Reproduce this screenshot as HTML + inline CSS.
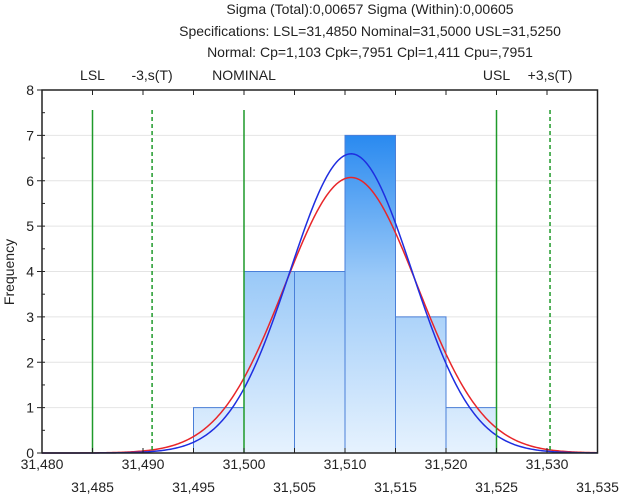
<!DOCTYPE html>
<html><head><meta charset="utf-8"><style>
body{margin:0;background:#fff;font-family:"Liberation Sans",sans-serif}
svg text{font-family:"Liberation Sans",sans-serif;fill:#222}
</style></head><body>
<svg id="c" width="624" height="496" xmlns="http://www.w3.org/2000/svg">
<defs>
<linearGradient id="g" gradientUnits="userSpaceOnUse" x1="0" y1="136" x2="0" y2="453">
<stop offset="0" stop-color="#2a8af0"/><stop offset="0.45" stop-color="#9ccaf8"/><stop offset="1" stop-color="#e6f2fe"/>
</linearGradient>
</defs>
<text x="370" y="14" font-size="14" text-anchor="middle">Sigma (Total):0,00657 Sigma (Within):0,00605</text>
<text x="370" y="36" font-size="14" text-anchor="middle">Specifications: LSL=31,4850 Nominal=31,5000 USL=31,5250</text>
<text x="370" y="57" font-size="14" text-anchor="middle">Normal: Cp=1,103 Cpk=,7951 Cpl=1,411 Cpu=,7951</text>
<g id="plot"></g>
<text transform="translate(14,272) rotate(-90)" font-size="14" text-anchor="middle">Frequency</text>
</svg>
<script>
const binStarts=[31.495,31.500,31.505,31.510,31.515,31.520];
const counts=[1,4,4,7,3,1];
const binWidth=0.005;
const n=20;
const mean=31.5106;
const sigmaTotal=0.00657;
const sigmaWithin=0.00605;
const yTicks=[0,1,2,3,4,5,6,7,8];
const xTicks=[31.480,31.485,31.490,31.495,31.500,31.505,31.510,31.515,31.520,31.525,31.530,31.535];
const xTickLabels=["31,480","31,485","31,490","31,495","31,500","31,505","31,510","31,515","31,520","31,525","31,530","31,535"];
const specValues=[31.485,31.4909,31.500,31.525,31.5303];
const specLabels=["LSL","-3,s(T)","NOMINAL","USL","+3,s(T)"];
const specDashed=[false,true,false,false,true];

const X0=42,X1=597.5,Y0=453,Y1=90;
const xs=v=>X0+(v-31.480)/(0.055)*(X1-X0);
const ys=v=>Y0-v/8*(Y0-Y1);
const NS="http://www.w3.org/2000/svg";
const g=document.getElementById('plot');
function mk(t,a,p){const e=document.createElementNS(NS,t);for(const k in a)e.setAttribute(k,a[k]);(p||g).appendChild(e);return e;}

yTicks.forEach(t=>{
 if(t>0&&t<8){const l=mk('line',{x1:X0,x2:X1,y1:ys(t),y2:ys(t),stroke:'#e4e4e4'});
 
 }
 const tk=mk('line',{x1:X0-5,x2:X0,y1:ys(t),y2:ys(t),stroke:'#222'});
 
 
 const tx=mk('text',{x:X0-8,y:ys(t)+5,'font-size':14,'text-anchor':'end'});
 tx.textContent=t;
 
 
});
for(let v=0;v<8;v+=0.5){const m=mk('line',{x1:X0,x2:X0+3,y1:ys(v),y2:ys(v),stroke:'#222'});
 
 }

binStarts.forEach((b,i)=>{
 const r=mk('rect',{x:xs(b),y:ys(counts[i]),width:xs(b+binWidth)-xs(b),height:Y0-ys(counts[i]),fill:'url(#g)',stroke:'#4a7fd8','stroke-width':1});
 
 
});

function curve(s,col,name){
 let d='';for(let k=0;k<=400;k++){const v=31.480+0.055*k/400;
 const f=n*binWidth/(s*Math.sqrt(2*Math.PI))*Math.exp(-0.5*((v-mean)/s)**2);
 d+=(k?'L':'M')+xs(v).toFixed(2)+','+ys(f).toFixed(2);}
 const p=mk('path',{d:d,fill:'none',stroke:col,'stroke-width':1.5});
 
 
}
curve(sigmaTotal,'#e8262a','normal-curve-total');
curve(sigmaWithin,'#1f2ee0','normal-curve-within');

specValues.forEach((v,i)=>{
 const l=mk('line',{x1:xs(v),x2:xs(v),y1:110,y2:Y0,stroke:'#1f9a2a','stroke-width':1.5});
 if(specDashed[i])l.setAttribute('stroke-dasharray','4,3');
 
 
 const t=mk('text',{x:xs(v),y:80,'font-size':14,'text-anchor':'middle'});
 t.textContent=specLabels[i];
 
 
});

xTicks.forEach((v,i)=>{
 const tk=mk('line',{x1:xs(v),x2:xs(v),y1:Y0,y2:Y0-5,stroke:'#222'});
 
 
 const tt=mk('line',{x1:xs(v),x2:xs(v),y1:Y1,y2:Y1+5,stroke:'#222'});
 
 
 const t=mk('text',{x:xs(v),y:i%2?492:469,'font-size':14,'text-anchor':'middle'});
 t.textContent=xTickLabels[i];
 
 
});
const fr=mk('rect',{x:X0,y:Y1,width:X1-X0,height:Y0-Y1,fill:'none',stroke:'#222','stroke-width':1.5});


</script>
</body></html>
